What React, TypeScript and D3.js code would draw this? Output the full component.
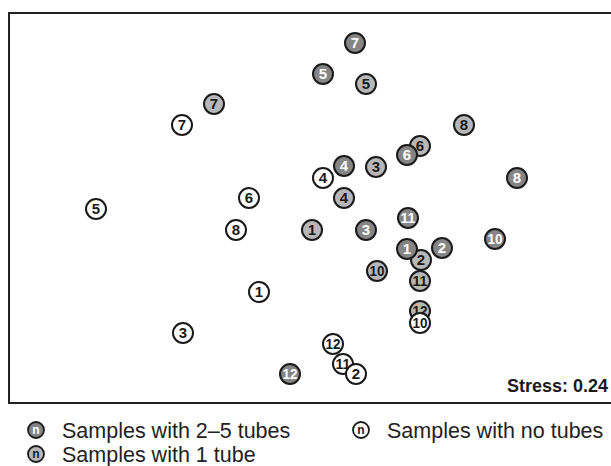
import React, { useRef, useEffect } from 'react';
import * as d3 from 'd3';

// MDS coordinates per sample group (label = sample number)
const manyTubes = [
  { label: '7', x: 0.45, y: 1.67 },
  { label: '5', x: 0.13, y: 1.36 },
  { label: '4', x: 0.34, y: 0.44 },
  { label: '6', x: 0.97, y: 0.55 },
  { label: '8', x: 2.07, y: 0.32 },
  { label: '3', x: 0.56, y: -0.2 },
  { label: '11', x: 0.98, y: -0.08 },
  { label: '1', x: 0.97, y: -0.39 },
  { label: '2', x: 1.32, y: -0.38 },
  { label: '10', x: 1.85, y: -0.29 },
  { label: '12', x: -0.2, y: -1.64 },
];

const oneTube = [
  { label: '5', x: 0.56, y: 1.26 },
  { label: '7', x: -0.96, y: 1.06 },
  { label: '8', x: 1.54, y: 0.85 },
  { label: '6', x: 1.1, y: 0.64 },
  { label: '3', x: 0.66, y: 0.43 },
  { label: '4', x: 0.34, y: 0.12 },
  { label: '1', x: 0.02, y: -0.2 },
  { label: '2', x: 1.11, y: -0.5 },
  { label: '10', x: 0.67, y: -0.61 },
  { label: '11', x: 1.1, y: -0.71 },
  { label: '12', x: 1.1, y: -1.01 },
];

const noTubes = [
  { label: '7', x: -1.28, y: 0.85 },
  { label: '4', x: 0.13, y: 0.32 },
  { label: '5', x: -2.14, y: 0.01 },
  { label: '6', x: -0.61, y: 0.12 },
  { label: '8', x: -0.74, y: -0.2 },
  { label: '1', x: -0.51, y: -0.82 },
  { label: '3', x: -1.27, y: -1.23 },
  { label: '10', x: 1.1, y: -1.13 },
  { label: '12', x: 0.23, y: -1.34 },
  { label: '11', x: 0.33, y: -1.54 },
  { label: '2', x: 0.46, y: -1.64 },
];

const stress = 0.24;

const groups = [
  { name: 'Samples with 1 tube', fill: '#b7b7b7', text: '#1a1a1a', data: oneTube },
  { name: 'Samples with 2–5 tubes', fill: '#858585', text: '#ffffff', data: manyTubes },
  { name: 'Samples with no tubes', fill: '#ffffff', text: '#1a1a1a', data: noTubes },
];

const App = () => {
  const svgRef = useRef(null);

  useEffect(() => {
    const svg = d3.select(svgRef.current);
    svg.selectAll('*').remove();

    const width = 611;
    const font = '"Liberation Sans", Arial, Helvetica, sans-serif';

    const x = d3.scaleLinear().domain([-3, 3]).range([10, 610]);
    const y = d3.scaleLinear().domain([-2, 2]).range([410, 10]);

    // frame (runs off the right edge)
    svg.append('rect')
      .attr('x', 9)
      .attr('y', 13)
      .attr('width', 700)
      .attr('height', 390)
      .attr('fill', 'none')
      .attr('stroke', '#222')
      .attr('stroke-width', 2);

    const r = 10;

    groups.forEach(g => {
      const pts = svg.append('g')
        .selectAll('g')
        .data(g.data)
        .enter()
        .append('g')
        .attr('transform', d => `translate(${x(d.x)},${y(d.y)})`);

      pts.append('circle')
        .attr('r', r)
        .attr('fill', g.fill)
        .attr('stroke', '#1a1a1a')
        .attr('stroke-width', 2);

      pts.append('text')
        .attr('text-anchor', 'middle')
        .attr('dy', '0.36em')
        .attr('font-family', font)
        .attr('font-weight', 'bold')
        .attr('font-size', 15)
        .attr('fill', g.text)
        .attr('textLength', d => (d.label.length > 1 ? 15 : null))
        .attr('lengthAdjust', 'spacingAndGlyphs')
        .text(d => d.label);
    });

    svg.append('text')
      .attr('x', width - 3)
      .attr('y', 392)
      .attr('text-anchor', 'end')
      .attr('font-family', font)
      .attr('font-weight', 'bold')
      .attr('font-size', 18)
      .attr('fill', '#1a1a1a')
      .text(`Stress: ${stress}`);

    // legend
    const legendPos = [
      { gi: 1, cx: 36, cy: 430 },
      { gi: 0, cx: 36, cy: 454 },
      { gi: 2, cx: 361, cy: 430 },
    ];

    const legend = svg.append('g').attr('class', 'legend');
    const items = legend.selectAll('g')
      .data(legendPos)
      .enter()
      .append('g')
      .attr('transform', d => `translate(${d.cx},${d.cy})`);

    items.append('circle')
      .attr('r', 8)
      .attr('fill', d => groups[d.gi].fill)
      .attr('stroke', '#1a1a1a')
      .attr('stroke-width', 1.8);

    items.append('text')
      .attr('text-anchor', 'middle')
      .attr('dy', '0.3em')
      .attr('font-family', font)
      .attr('font-weight', 'bold')
      .attr('font-size', 12)
      .attr('fill', d => groups[d.gi].text)
      .text('n');

    items.append('text')
      .attr('x', 26)
      .attr('dy', '0.36em')
      .attr('font-family', font)
      .attr('font-size', 21.5)
      .attr('fill', '#222')
      .text(d => groups[d.gi].name);
  }, []);

  return (
    <svg
      ref={svgRef}
      width={611}
      height={466}
      style={{ position: 'absolute', left: 0, top: 0, background: '#fff' }}
    />
  );
};

export default App;
